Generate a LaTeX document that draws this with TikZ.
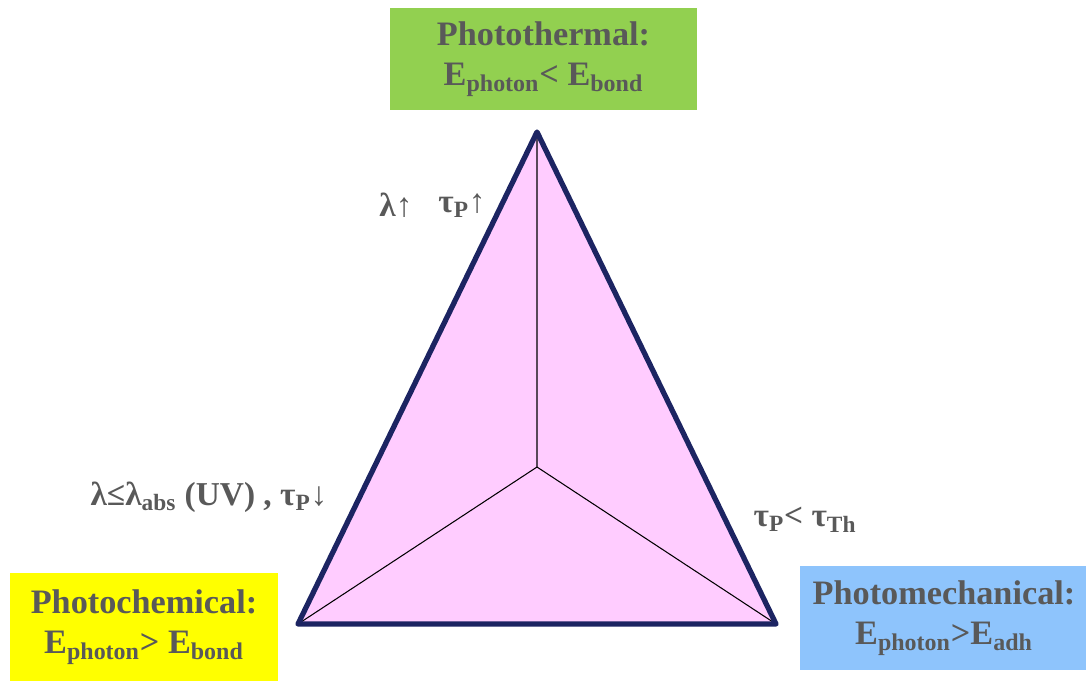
\documentclass[tikz,border=0pt]{standalone}
\usepackage{fontspec}
\setmainfont{Liberation Serif}
\usepackage{tikz}
\usetikzlibrary{positioning}

\definecolor{txtgray}{HTML}{595959}
\definecolor{thermgreen}{HTML}{92D050}
\definecolor{chemyellow}{HTML}{FFFF00}
\definecolor{mechblue}{HTML}{8EC4FC}
\definecolor{facepink}{HTML}{FFCCFF}
\definecolor{edgenavy}{HTML}{1C2462}

\tikzset{
    modebox/.style={minimum width=#1, inner sep=0pt, align=center,
        text=txtgray, font=\fontsize{19.5}{23}\selectfont\bfseries},
    condlabel/.style={text=txtgray, inner sep=0pt,
        font=\fontsize{19}{22}\selectfont\bfseries}
}

\begin{document}
\begin{tikzpicture}[x=0.02cm,y=-0.02cm]
\useasboundingbox (0,0) rectangle (1086,681);

% Regime boxes
\node[modebox=6.14cm, minimum height=2.04cm, fill=thermgreen] (therm) at (543.5,59)
    {Photothermal:\\E\textsubscript{photon}< E\textsubscript{bond}};
\node[modebox=5.36cm, minimum height=2.16cm, fill=chemyellow] (chem) at (144,627)
    {Photochemical:\\E\textsubscript{photon}> E\textsubscript{bond}};
\node[modebox=5.78cm, minimum height=2.08cm, fill=mechblue] (mech) at (944,618)
    {Photomechanical:\\E\textsubscript{photon}>E\textsubscript{adh}};

% Triangle corners
\coordinate (top) at (537,132);
\coordinate (left) at (298,624);
\coordinate (right) at (776,624);
\coordinate (mid) at (537,467);

% Triangle face and inner edges
\fill[facepink] (top) -- (left) -- (right) -- cycle;
\draw[black, line width=0.6pt] (mid) -- (top) (mid) -- (left) (mid) -- (right);
\draw[edgenavy, line width=3pt, line join=round] (top) -- (left) -- (right) -- cycle;

% Conditions along the edges
\node[condlabel] (lamup) at (396,205) {λ↑};
\node[condlabel] (tauup) at (462,206) {τ\textsubscript{P}↑};
\node[condlabel] (uvcond) at (209,497) {λ≤λ\textsubscript{abs} (UV) , τ\textsubscript{P}↓};
\node[condlabel] (thcond) at (805,520) {τ\textsubscript{P}< τ\textsubscript{Th}};

\end{tikzpicture}
\end{document}
